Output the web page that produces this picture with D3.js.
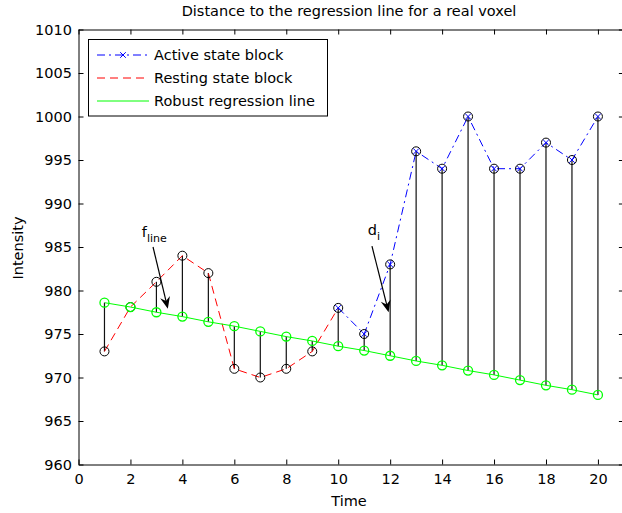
<!DOCTYPE html>
<html>
<head>
<meta charset="utf-8">
<script src="https://cdn.jsdelivr.net/npm/d3@7/dist/d3.min.js"></script>
<style>
  body { margin: 0; background: #fff; }
  svg { display: block; font-family: 'DejaVu Sans', sans-serif; }
</style>
</head>
<body>
<div class="chart"></div>
<script>
// data
const restTime = [1, 2, 3, 4, 5, 6, 7, 8, 9, 10];
const restValues = [973, 978.1, 981, 984, 982, 971, 970, 971, 973, 978];
const activeTime = [10, 11, 12, 13, 14, 15, 16, 17, 18, 19, 20];
const activeValues = [978, 975, 983, 996, 994, 1000, 994, 994, 997, 995, 1000];
const lineTime = [1, 2, 3, 4, 5, 6, 7, 8, 9, 10, 11, 12, 13, 14, 15, 16, 17, 18, 19, 20];
const lineValues = [978.6, 978.1, 977.5, 977.0, 976.4, 975.9, 975.3, 974.7, 974.2, 973.6,
  973.1, 972.5, 971.9, 971.4, 970.8, 970.3, 969.7, 969.1, 968.6, 968.0];
const xTicks = [0, 2, 4, 6, 8, 10, 12, 14, 16, 18, 20];
const yTicks = [960, 965, 970, 975, 980, 985, 990, 995, 1000, 1005, 1010];
const legendLabels = ['Active state block', 'Resting state block', 'Robust regression line'];
// annotations in data coords: label position, arrow start, arrow tip
const notes = [
  { main: 'f', sub: 'line', tx: 2.44, ty: 986.2, x1: 2.87, y1: 985.0, x2: 3.44, y2: 977.9 },
  { main: 'd', sub: 'i', tx: 11.14, ty: 986.4, x1: 11.30, y1: 985.1, x2: 11.94, y2: 977.5 },
];

{
  const W = 622;
  const H = 513;
  const left = 78.5;
  const top = 29.5;
  const right = 623.9;
  const bottom = 464.5;
  const fs = 14.5;

  const svg = d3.select('.chart').append('svg')
    .attr('width', W)
    .attr('height', H);

  const x = d3.scaleLinear().domain([0, 21]).range([left, right]);
  const y = d3.scaleLinear().domain([960, 1010]).range([bottom, top]);

  // data points: merge both series into one list of (t, v)
  const points = restTime.map((t, i) => ({ t, v: restValues[i] }))
    .concat(activeTime.slice(1).map((t, i) => ({ t, v: activeValues[i + 1] })));
  const lineAt = t => lineValues[lineTime.indexOf(t)];

  // stems from data to regression line
  svg.append('g')
    .selectAll('line')
    .data(points)
    .enter()
    .append('line')
    .attr('x1', d => x(d.t))
    .attr('x2', d => x(d.t))
    .attr('y1', d => y(d.v))
    .attr('y2', d => y(lineAt(d.t)))
    .attr('stroke', '#111')
    .attr('stroke-width', 1.2);

  const path = d3.line().x(d => x(d[0])).y(d => y(d[1]));

  svg.append('path')
    .datum(restTime.map((t, i) => [t, restValues[i]]))
    .attr('d', path)
    .attr('fill', 'none')
    .attr('stroke', '#ff0000')
    .attr('stroke-dasharray', '8,5');

  svg.append('path')
    .datum(activeTime.map((t, i) => [t, activeValues[i]]))
    .attr('d', path)
    .attr('fill', 'none')
    .attr('stroke', '#0000ff')
    .attr('stroke-dasharray', '8,4,2,4');

  // black circles on data
  svg.append('g')
    .selectAll('circle')
    .data(points)
    .enter()
    .append('circle')
    .attr('cx', d => x(d.t))
    .attr('cy', d => y(d.v))
    .attr('r', 4.5)
    .attr('fill', 'none')
    .attr('stroke', '#000');

  // blue x markers on active block
  const cross = (g, cx, cy, s) => {
    g.append('path')
      .attr('d', `M${cx - s},${cy - s}L${cx + s},${cy + s}M${cx - s},${cy + s}L${cx + s},${cy - s}`)
      .attr('stroke', '#0000ff')
      .attr('fill', 'none');
  };
  const crosses = svg.append('g');
  activeTime.forEach((t, i) => cross(crosses, x(t), y(activeValues[i]), 2.8));

  // regression line and circles
  svg.append('path')
    .datum(lineTime.map((t, i) => [t, lineValues[i]]))
    .attr('d', path)
    .attr('fill', 'none')
    .attr('stroke', '#00ff00');

  svg.append('g')
    .selectAll('circle')
    .data(lineTime)
    .enter()
    .append('circle')
    .attr('cx', d => x(d))
    .attr('cy', (d, i) => y(lineValues[i]))
    .attr('r', 4.5)
    .attr('fill', 'none')
    .attr('stroke', '#00ff00')
    .attr('stroke-width', 1.3);

  // axes, ticks inside on all four sides
  const fmt = d3.format('d');
  const axes = [
    { a: d3.axisBottom(x).tickValues(xTicks).tickFormat(fmt).tickSize(-5).tickPadding(9.7), t: `translate(0,${bottom})` },
    { a: d3.axisTop(x).tickValues(xTicks).tickSize(-5).tickFormat(''), t: `translate(0,${top})` },
    { a: d3.axisLeft(y).tickValues(yTicks).tickFormat(fmt).tickSize(-5).tickPadding(6.6), t: `translate(${left},0)` },
    { a: d3.axisRight(y).tickValues(yTicks).tickSize(-5).tickFormat(''), t: `translate(${right},0)` },
  ];
  axes.forEach((ax) => {
    const g = svg.append('g')
      .attr('transform', ax.t)
      .call(ax.a.tickSizeOuter(0));
    g.select('.domain').attr('stroke', '#000');
    g.selectAll('line').attr('stroke', '#000');
    g.selectAll('text')
      .attr('fill', '#000')
      .style('font-size', `${fs}px`)
      .style('font-family', 'DejaVu Sans');
  });

  // titles
  svg.append('text')
    .attr('x', 349)
    .attr('y', 16)
    .attr('text-anchor', 'middle')
    .style('font-size', `${fs}px`)
    .text('Distance to the regression line for a real voxel');

  svg.append('text')
    .attr('x', 349)
    .attr('y', 506)
    .attr('text-anchor', 'middle')
    .style('font-size', `${fs}px`)
    .text('Time');

  svg.append('text')
    .attr('transform', 'translate(22.5,248) rotate(-90)')
    .attr('text-anchor', 'middle')
    .style('font-size', `${fs}px`)
    .text('Intensity');

  // annotations
  notes.forEach((n) => {
    const t = svg.append('text')
      .attr('x', x(n.tx))
      .attr('y', y(n.ty))
      .style('font-size', `${fs}px`);
    t.append('tspan').text(n.main);
    t.append('tspan')
      .attr('dy', 5.5)
      .style('font-size', '11px')
      .text(n.sub);

    const ax1 = x(n.x1);
    const ay1 = y(n.y1);
    const ax2 = x(n.x2);
    const ay2 = y(n.y2);
    const len = Math.hypot(ax2 - ax1, ay2 - ay1);
    const ux = (ax2 - ax1) / len;
    const uy = (ay2 - ay1) / len;
    const hl = 12;
    const hw = 5;
    svg.append('line')
      .attr('x1', ax1)
      .attr('y1', ay1)
      .attr('x2', ax2 - ux * 6)
      .attr('y2', ay2 - uy * 6)
      .attr('stroke', '#000')
      .attr('stroke-width', 1.2);
    const bx = ax2 - ux * hl;
    const by = ay2 - uy * hl;
    const nx = ax2 - ux * (hl - 4);
    const ny = ay2 - uy * (hl - 4);
    svg.append('path')
      .attr('d', `M${ax2},${ay2}L${bx - uy * hw},${by + ux * hw}L${nx},${ny}L${bx + uy * hw},${by - ux * hw}Z`)
      .attr('fill', '#000');
  });

  // legend
  const legend = svg.append('g');
  legend.append('rect')
    .attr('x', 88.5)
    .attr('y', 39.5)
    .attr('width', 239)
    .attr('height', 76.5)
    .attr('fill', '#fff')
    .attr('stroke', '#000');

  const styles = [
    { color: '#0000ff', dash: '8,4,2,4' },
    { color: '#ff0000', dash: '8,5' },
    { color: '#00ff00', dash: null },
  ];
  legendLabels.forEach((label, i) => {
    const ly = 55 + i * 23;
    legend.append('line')
      .attr('x1', 97)
      .attr('x2', 149)
      .attr('y1', ly)
      .attr('y2', ly)
      .attr('stroke', styles[i].color)
      .attr('stroke-dasharray', styles[i].dash);
    legend.append('text')
      .attr('x', 154)
      .attr('y', ly)
      .attr('dy', '0.36em')
      .style('font-size', `${fs}px`)
      .text(label);
  });
  cross(legend, 123, 55, 2.8);
}
</script>
</body>
</html>
